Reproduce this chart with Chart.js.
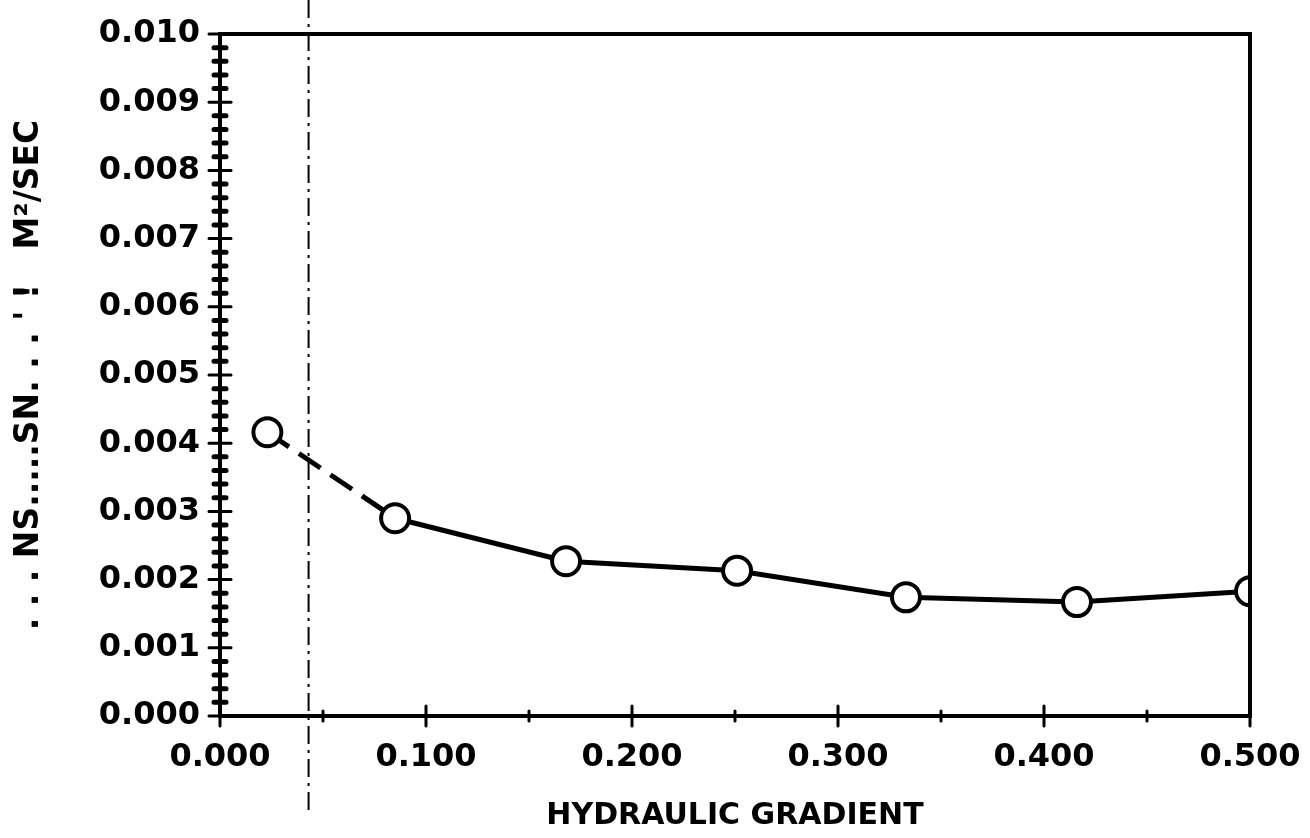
<!DOCTYPE html>
<html>
<head>
<meta charset="utf-8">
<script src="https://cdn.jsdelivr.net/npm/chart.js@4"></script>
<style>
  html, body { margin: 0; padding: 0; background: #fff; }
  #chart { display: block; }
</style>
</head>
<body>
<canvas id="chart" width="1310" height="838"></canvas>
<script>
'use strict';

// Data
const gradient = [0.023, 0.085, 0.168, 0.251, 0.333, 0.416, 0.500];
const transmissivity = [0.00416, 0.00290, 0.00227, 0.00213, 0.00174, 0.00167, 0.00183];

// dash-dot reference line (runs past the frame on both ends)
const refLineX = [0.043, 0.043];
const refLineY = [0.0105, -0.0014];

const xTicks = [0, 0.1, 0.2, 0.3, 0.4, 0.5];
const yTicks = [0, 0.001, 0.002, 0.003, 0.004, 0.005, 0.006, 0.007, 0.008, 0.009, 0.010];

const xTitle = 'HYDRAULIC GRADIENT';
const yTitle = '. . . NS.....SN. . . \' !   M²/SEC';

const FONT = '"DejaVu Sans", sans-serif';

// frame + plotter-style ticks (majors cross the axis, minors are little beads)
const framePlugin = {
  id: 'frame',
  afterDraw(chart) {
    const { ctx, chartArea: a, scales: { x, y } } = chart;
    ctx.save();
    ctx.strokeStyle = '#000';
    ctx.lineCap = 'round';

    // y minors every 0.0002
    ctx.lineWidth = 5;
    for (let i = 1; i < 50; i++) {
      if (i % 5 === 0) continue;
      const py = y.getPixelForValue(i * 0.0002);
      ctx.beginPath();
      ctx.moveTo(a.left - 6, py);
      ctx.lineTo(a.left + 6, py);
      ctx.stroke();
    }
    ctx.lineWidth = 3;
    yTicks.forEach(v => {
      const py = y.getPixelForValue(v);
      ctx.beginPath();
      ctx.moveTo(a.left - 11, py);
      ctx.lineTo(a.left + 11, py);
      ctx.stroke();
    });

    // x majors and half-step minors
    xTicks.forEach(v => {
      const px = x.getPixelForValue(v);
      ctx.beginPath();
      ctx.moveTo(px, a.bottom - 10);
      ctx.lineTo(px, a.bottom + 10);
      ctx.stroke();
    });
    for (let v = 0.05; v < 0.5; v += 0.1) {
      const px = x.getPixelForValue(v);
      ctx.beginPath();
      ctx.moveTo(px, a.bottom - 5);
      ctx.lineTo(px, a.bottom + 5);
      ctx.stroke();
    }

    // box
    ctx.lineCap = 'butt';
    ctx.lineWidth = 4;
    ctx.strokeRect(a.left, a.top, a.right - a.left, a.bottom - a.top);
    ctx.restore();
  }
};

new Chart(document.getElementById('chart'), {
  type: 'scatter',
  data: {
    datasets: [
      {
        data: gradient.map((g, i) => ({ x: g, y: transmissivity[i] })),
        showLine: true,
        borderColor: '#000',
        borderWidth: 5,
        pointRadius: 14,
        pointBorderWidth: 4,
        pointBorderColor: '#000',
        pointBackgroundColor: '#fff',
        segment: {
          borderDash: ctx => (ctx.p0DataIndex === 0 ? [26, 12] : undefined)
        },
        order: 1
      },
      {
        data: refLineX.map((v, i) => ({ x: v, y: refLineY[i] })),
        showLine: true,
        borderColor: '#000',
        borderWidth: 2,
        borderDash: [18, 6, 3, 6],
        pointRadius: 0,
        clip: false,
        order: 2
      }
    ]
  },
  options: {
    responsive: false,
    animation: false,
    devicePixelRatio: 1,
    layout: { padding: { top: 34, right: 60, bottom: 0, left: 0 } },
    plugins: {
      legend: { display: false },
      tooltip: { enabled: false }
    },
    scales: {
      x: {
        type: 'linear',
        min: 0,
        max: 0.5,
        afterFit: s => { s.height = 122; s.paddingLeft = 0; s.paddingRight = 0; },
        afterBuildTicks: s => { s.ticks = xTicks.map(v => ({ value: v })); },
        grid: { display: false, drawTicks: false },
        border: { display: false },
        ticks: {
          color: '#000',
          padding: 22,
          font: { family: FONT, size: 32, weight: 'bold' },
          callback: v => Number(v).toFixed(3)
        },
        title: {
          display: true,
          text: xTitle,
          color: '#000',
          font: { family: FONT, size: 30, weight: 'bold' },
          padding: { top: 0, bottom: 4 }
        }
      },
      y: {
        type: 'linear',
        min: 0,
        max: 0.01,
        afterFit: s => { s.width = 220; s.paddingTop = 0; s.paddingBottom = 0; },
        afterBuildTicks: s => { s.ticks = yTicks.map(v => ({ value: v })); },
        grid: { display: false, drawTicks: false },
        border: { display: false },
        ticks: {
          color: '#000',
          padding: 20,
          font: { family: FONT, size: 32, weight: 'bold' },
          callback: v => Number(v).toFixed(3)
        },
        title: {
          display: true,
          text: yTitle,
          color: '#000',
          font: { family: FONT, size: 33, weight: 'bold' },
          padding: { top: 10, bottom: 0 }
        }
      }
    }
  },
  plugins: [framePlugin]
});
</script>
</body>
</html>
